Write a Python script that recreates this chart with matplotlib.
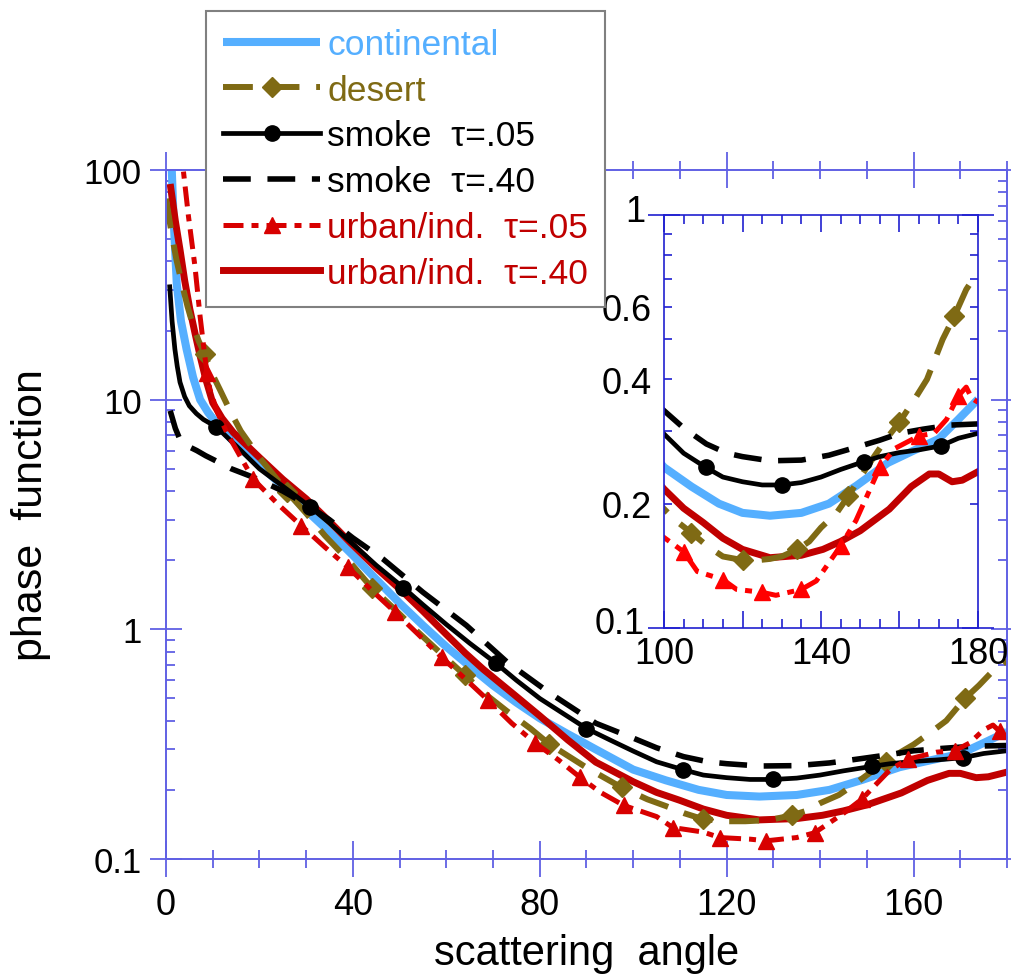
import matplotlib
matplotlib.use('Agg')
import matplotlib.pyplot as plt
from matplotlib.ticker import MultipleLocator, FixedLocator, LogLocator, NullFormatter
from matplotlib.lines import Line2D
from matplotlib.transforms import ScaledTranslation

plt.rcParams['font.family'] = ['Liberation Sans', 'DejaVu Sans']

# ---- data (angle in deg, phase function) ----
cont_x = [1.2, 1.6, 2.3, 3.2, 4.4, 5.8, 7.3, 9, 10.8, 15, 20, 25, 30, 35, 40, 45, 50, 55, 60, 65,
          70, 75, 80, 86, 92, 100, 107, 114, 120, 127, 135, 142, 149, 157, 164, 170, 175, 180]
cont_y = [105, 63, 32, 22, 16.6, 12.5, 10, 8.8, 7.9, 6.4, 5.2, 4.2, 3.3, 2.65, 2.1, 1.65, 1.3, 1.04, 0.84, 0.69,
          0.57, 0.48, 0.41, 0.35, 0.30, 0.245, 0.22, 0.20, 0.19, 0.187, 0.19, 0.20, 0.221, 0.251, 0.27, 0.287, 0.32, 0.358]

des_x = [0, 1.2, 2.2, 3.4, 4.6, 5.8, 7, 8.3, 10, 11.5, 14, 16, 20, 26, 30, 34, 39, 44, 49, 54, 59, 64, 69, 73,
         78, 82, 90, 97.5, 103, 107, 111, 115, 120, 124, 127, 130, 134, 137, 140, 144, 147, 150, 154, 157,
         160, 164, 167, 171, 174, 177, 180]
des_y = [75, 53, 41, 32, 25.5, 21, 18, 15.8, 12.8, 11.1, 8.7, 7.3, 5.6, 3.95, 3.2, 2.56, 2.0, 1.52, 1.22, 0.97,
         0.78, 0.63, 0.51, 0.44, 0.37, 0.317, 0.25, 0.205, 0.182, 0.17, 0.158, 0.149, 0.146, 0.146, 0.147,
         0.149, 0.155, 0.162, 0.175, 0.19, 0.209, 0.232, 0.264, 0.29, 0.315, 0.36, 0.40, 0.50, 0.57, 0.66, 0.73]
des_mk_main = [8.3, 26, 44, 64, 82, 97.5, 115, 134, 154, 171]
des_mk_inset = [107, 120, 134, 147, 160, 174]

sm05_x = [0.8, 1.3, 1.9, 2.4, 3, 4, 5, 6.5, 8, 10.8, 15, 20, 25, 30.8, 35, 40, 45, 50.8, 55, 60, 65, 70.7,
          75, 80, 85, 90, 95, 100, 105, 110.6, 115, 120, 125, 130, 135, 140, 145, 151, 155, 160, 165,
          170.5, 175, 180]
sm05_y = [31, 22, 16.6, 14, 11.9, 10.3, 9.4, 8.7, 8.2, 7.6, 6.3, 5.0, 4.2, 3.42, 2.9, 2.35, 1.9, 1.52, 1.28,
          1.05, 0.87, 0.71, 0.6, 0.5, 0.43, 0.37, 0.33, 0.295, 0.265, 0.245, 0.232, 0.226, 0.222, 0.222,
          0.225, 0.232, 0.242, 0.253, 0.26, 0.266, 0.27, 0.276, 0.288, 0.296]
sm05_mk = [10.8, 30.8, 50.8, 70.7, 90, 110.6, 130, 151, 170.5]

sm40_x = [0.9, 2, 3, 4.5, 6.6, 8.5, 10.8, 14, 18.6, 25, 30, 35, 40, 46.5, 55, 64.3, 73, 82, 92, 100, 105,
          110.8, 116, 120, 127, 135, 142, 149, 155, 160, 166, 173, 180]
sm40_y = [8.95, 7.5, 6.7, 6.3, 6.0, 5.7, 5.4, 5.0, 4.6, 4.0, 3.5, 3.0, 2.5, 2.02, 1.45, 1.04, 0.72, 0.53,
          0.39, 0.336, 0.305, 0.279, 0.265, 0.26, 0.254, 0.255, 0.262, 0.274, 0.285, 0.296, 0.303, 0.31, 0.312]

ur05_x = [3.0, 3.7, 4.8, 6.2, 7.3, 8.3, 8.8, 9.4, 11, 13, 15.8, 18.7, 24, 29, 34, 39, 44, 49, 54, 59,
          64, 69, 74, 79, 84, 88.6, 93, 98, 105, 108.5, 115, 118.5, 125, 128.5, 135, 138.8, 145, 148.9,
          155, 158.8, 165, 168.8, 172, 175, 177, 178.4, 180]
ur05_y = [130, 100, 63, 38, 23, 15.5, 13, 11.1, 8.8, 7.2, 5.7, 4.5, 3.5, 2.82, 2.28, 1.86, 1.48, 1.19, 0.95,
          0.755, 0.61, 0.49, 0.39, 0.32, 0.27, 0.227, 0.195, 0.171, 0.153, 0.137, 0.131, 0.124, 0.122, 0.12,
          0.124, 0.13, 0.158, 0.182, 0.245, 0.272, 0.292, 0.296, 0.32, 0.365, 0.383, 0.36, 0.352]
ur05_mk_main = [8.8, 18.7, 29, 39, 49, 59, 69, 79, 88.6, 98, 108.5, 118.5, 128.5, 138.8, 148.9, 158.8,
                168.8, 178.4]
ur05_mk_inset = [105, 115, 125, 135, 145, 155, 165, 175]

ur40_x = [1, 2, 3, 4, 5.1, 6.2, 7.3, 8.5, 10, 12, 14.4, 20, 25, 30, 35, 39.4, 45, 50.8, 55, 60, 64, 67.9,
          74, 80, 86, 92, 100, 105, 110, 115, 120, 127, 135, 140.5, 145, 150, 157.4, 163, 167.6, 170,
          173.4, 176, 180]
ur40_y = [84, 60, 45, 33, 24.8, 19.5, 15.5, 12.3, 9.7, 8.3, 7.2, 5.6, 4.5, 3.7, 2.95, 2.39, 1.85, 1.45, 1.2,
          0.95, 0.79, 0.67, 0.53, 0.42, 0.33, 0.264, 0.217, 0.195, 0.18, 0.165, 0.155, 0.148, 0.15, 0.155,
          0.162, 0.172, 0.194, 0.22, 0.236, 0.236, 0.226, 0.228, 0.239]

labels = ['continental', 'desert', 'smoke  \u03c4=.05', 'smoke  \u03c4=.40',
          'urban/ind.  \u03c4=.05', 'urban/ind.  \u03c4=.40']

# colours
c_cont = '#55AFFF'
c_des = '#7F6A14'
c_red = '#C00000'
c_red2 = '#D80000'
c_ax = '#6060e4'
c_inset = '#2020d0'


def idx(xs, marks):
    return [i for i, v in enumerate(xs) if v in marks]


def draw(a, des_mk, ur_mk, red2):
    a.plot(cont_x, cont_y, color=c_cont, lw=5.8, solid_capstyle='butt')
    a.plot(ur40_x, ur40_y, color=c_red, lw=5.0)
    a.plot(des_x, des_y, color=c_des, lw=4.3, dashes=(5, 2.8), marker='D', ms=10,
           markevery=idx(des_x, des_mk))
    a.plot(sm40_x, sm40_y, color='black', lw=4.0, dashes=(5, 3))
    a.plot(sm05_x, sm05_y, color='black', lw=3.4, marker='o', ms=11,
           markevery=idx(sm05_x, sm05_mk))
    a.plot(ur05_x, ur05_y, color=red2, lw=3.6, dashes=(4, 1.6, 1.4, 1.6), marker='^', ms=12,
           markevery=idx(ur05_x, ur_mk))


fig = plt.figure(figsize=(10.12, 9.79), dpi=100)

# ---- main axes ----
ax = fig.add_axes([166 / 1012, 1 - 860 / 979, 841 / 1012, 689 / 979])
ax.set_yscale('log')
draw(ax, des_mk_main, ur05_mk_main, c_red2)
ax.set_xlim(0, 180)
ax.set_ylim(0.1, 100)
ax.xaxis.set_major_locator(FixedLocator([0, 40, 80, 120, 160]))
ax.xaxis.set_minor_locator(MultipleLocator(10))
ax.set_xticklabels(['0', '40', '80', '120', '160'])
ax.yaxis.set_major_locator(FixedLocator([0.1, 1, 10, 100]))
ax.set_yticklabels(['0.1', '1', '10', '100'])
ax.yaxis.set_minor_locator(LogLocator(subs=range(2, 10)))
ax.yaxis.set_minor_formatter(NullFormatter())
ax.tick_params(axis='x', which='major', direction='inout', length=26, width=1.3, color=c_ax,
               top=True, labelsize=26, pad=7)
ax.tick_params(axis='x', which='minor', direction='inout', length=13, width=1.3, color=c_ax, top=True)
ax.tick_params(axis='y', which='major', direction='inout', length=23, width=1.3, color=c_ax,
               right=True, labelsize=25, pad=6)
ax.tick_params(axis='y', which='minor', direction='in', length=6.5, width=1.3, color=c_ax, right=True)
for s in ax.spines.values():
    s.set_color(c_ax)
    s.set_linewidth(1.4)
ax.set_xlabel('scattering  angle', fontsize=30)
ax.xaxis.set_label_coords(0.5, -0.108)
ax.set_ylabel('phase  function', fontsize=31)
ax.yaxis.set_label_coords(-0.137, 0.5)

# ---- inset ----
ax2 = fig.add_axes([664 / 1012, 1 - 629 / 979, 314 / 1012, 413 / 979])
ax2.set_yscale('log')
draw(ax2, des_mk_inset, ur05_mk_inset, '#FF0000')
ax2.set_xlim(100, 180)
ax2.set_ylim(0.1, 1)
ax2.xaxis.set_major_locator(FixedLocator([100, 120, 140, 160, 180]))
ax2.set_xticklabels(['100', '', '140', '', '180'])
ax2.xaxis.set_minor_locator(MultipleLocator(5))
ax2.yaxis.set_major_locator(FixedLocator([0.1, 1]))
ax2.set_yticklabels(['0.1', '1'])
ax2.yaxis.set_minor_locator(FixedLocator([0.2, 0.3, 0.4, 0.5, 0.6, 0.7, 0.8, 0.9]))
ax2.set_yticklabels(['0.2', '', '0.4', '', '0.6', '', '', ''], minor=True)
ax2.tick_params(axis='x', which='major', direction='in', length=12, width=1.2, color=c_inset,
                top=True, labelsize=26, pad=6)
ax2.tick_params(axis='x', which='minor', direction='in', length=6.5, width=1.2, color=c_inset, top=True)
ax2.tick_params(axis='y', which='major', direction='inout', length=23, width=1.2, color=c_inset,
                right=True, labelsize=26, pad=2)
ax2.tick_params(axis='y', which='minor', direction='in', length=6, width=1.2, color=c_inset,
                right=True, labelsize=26, pad=9)
for s in ax2.spines.values():
    s.set_color(c_inset)
    s.set_linewidth(1.2)
# the 0.1 and 1 labels sit a little above their ticks in the original
up = ScaledTranslation(0, 0.08, fig.dpi_scale_trans)
for lab in ax2.get_yticklabels():
    lab.set_transform(lab.get_transform() + up)

# ---- legend ----
handles = [
    Line2D([], [], color=c_cont, lw=5.8, solid_capstyle='butt'),
    Line2D([], [], color=c_des, lw=4.3, dashes=(5, 2.8), marker='D', ms=10),
    Line2D([], [], color='black', lw=3.4, marker='o', ms=11),
    Line2D([], [], color='black', lw=4.0, dashes=(5, 3)),
    Line2D([], [], color=c_red2, lw=3.6, dashes=(4, 1.6, 1.4, 1.6), marker='^', ms=12),
    Line2D([], [], color=c_red, lw=5.0),
]
leg = fig.legend(handles, labels, loc='upper left', bbox_to_anchor=(206 / 1012, 1 - 12 / 979),
                 bbox_transform=fig.transFigure, fontsize=25.5, frameon=True, fancybox=False,
                 edgecolor='#808080', framealpha=1, handlelength=2.75, handletextpad=0.2,
                 labelspacing=0.36, borderpad=0.48, borderaxespad=0, numpoints=1)
leg.get_frame().set_linewidth(1.5)
for t, c in zip(leg.get_texts(), [c_cont, c_des, 'black', 'black', c_red, c_red]):
    t.set_color(c)

fig.savefig('out.png', dpi=100)
